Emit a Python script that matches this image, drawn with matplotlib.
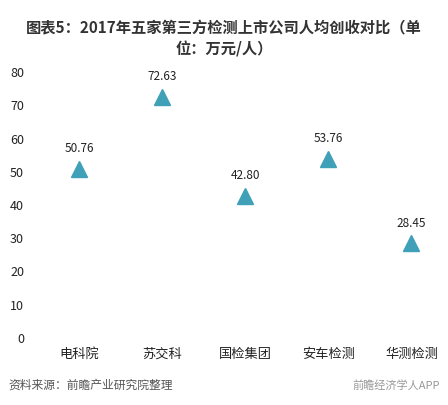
import matplotlib
matplotlib.use('Agg')
import matplotlib.pyplot as plt

plt.rcParams['font.family'] = ['Noto Sans CJK SC', 'DejaVu Sans']

companies = ['电科院', '苏交科', '国检集团', '安车检测', '华测检测']
revenue = [50.76, 72.63, 42.80, 53.76, 28.45]
value_labels = ['50.76', '72.63', '42.80', '53.76', '28.45']
yticks = [0, 10, 20, 30, 40, 50, 60, 70, 80]

fig = plt.figure(figsize=(4.48, 4.05), dpi=100)
ax = fig.add_axes([38/448, 1 - 338/405, 410/448, 266/405])

x = list(range(len(companies)))
ax.plot(x, revenue, linestyle='none', marker='^', markersize=11,
        color='#3fa0b8', markeredgecolor='#3fa0b8')
for xi, yi, lab in zip(x, revenue, value_labels):
    ax.annotate(lab, (xi, yi), xytext=(0, 10), textcoords='offset points',
                ha='center', va='bottom', fontsize=8.5, color='#222222')

ax.set_xlim(-0.5, 4.44)
ax.set_ylim(0, 80)
ax.set_yticks(yticks)
ax.set_xticks(x)
ax.set_xticklabels(companies, fontsize=9.5, color='#222222')
ax.tick_params(axis='both', length=0, colors='#222222')
ax.tick_params(axis='y', pad=10, labelsize=9)
ax.tick_params(axis='x', pad=7)
for s in ax.spines.values():
    s.set_visible(False)

fig.text(0.5, 1 - 28/405, '图表5：2017年五家第三方检测上市公司人均创收对比（单',
         ha='center', va='center', fontsize=11, fontweight='bold', color='#333333')
fig.text(0.5, 1 - 49/405, '位：万元/人）',
         ha='center', va='center', fontsize=11, fontweight='bold', color='#333333')
fig.text(8/448, 1 - 385/405, '资料来源：前瞻产业研究院整理', ha='left', va='center',
         fontsize=8.5, style='italic', color='#555555')
fig.text(440/448, 1 - 385/405, '前瞻经济学人APP', ha='right', va='center',
         fontsize=8, color='#999999')

fig.savefig('out.png', dpi=100, facecolor='white')
